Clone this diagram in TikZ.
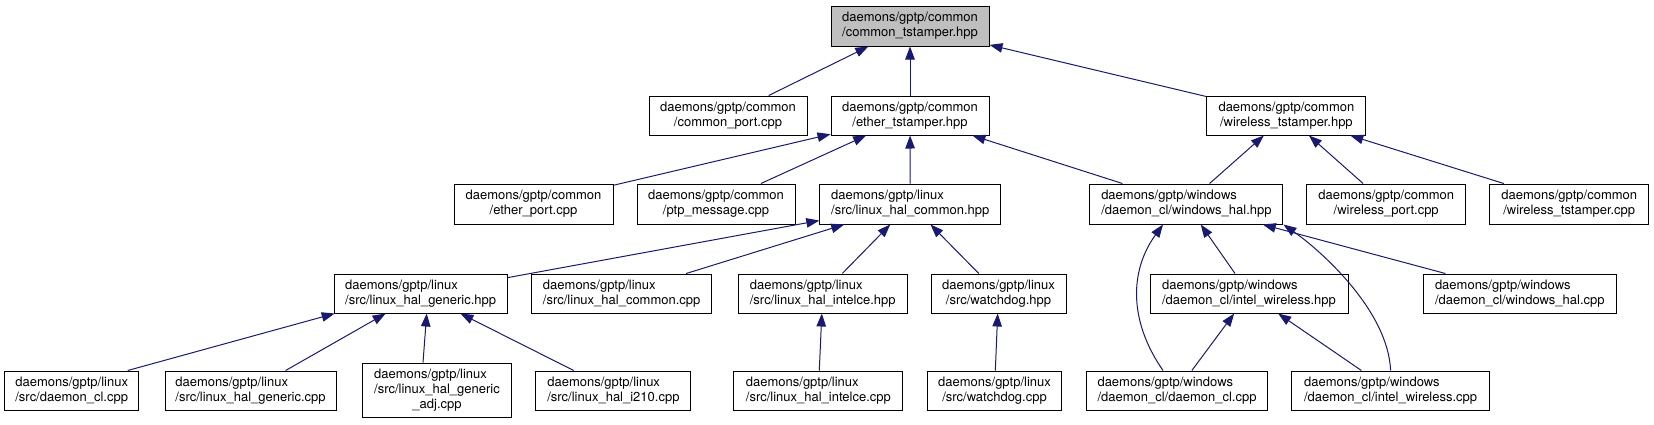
\documentclass[tikz,border=0pt]{standalone}
\usepackage{fontspec}
\setmainfont{TeX Gyre Heros}
\usetikzlibrary{arrows.meta}
\definecolor{edgeblue}{HTML}{191970}
\definecolor{rootgrey}{HTML}{BFBFBF}
\begin{document}
\begin{tikzpicture}[x=1pt,y=-1pt,
  box/.style={draw=black, line width=1pt, fill=white, inner sep=0pt, minimum height=39pt,
              font=\fontsize{13}{15}\selectfont, align=center},
  lbox/.style={box, align=left},
  edge/.style={draw=edgeblue, line width=1pt, -{Triangle[length=13pt,width=9.5pt]}}]
\useasboundingbox (0,0) rectangle (1654,424);

% row 1
\node[box, fill=rootgrey, minimum height=40pt, minimum width=158] (root) at (910,26) {daemons/gptp/common\\/common\_tstamper.hpp};
% row 2
\node[box, minimum width=158] (cport) at (728,115.5) {daemons/gptp/common\\/common\_port.cpp};
\node[box, minimum width=158] (eth) at (910,115.5) {daemons/gptp/common\\/ether\_tstamper.hpp};
\node[box, minimum width=159] (wth) at (1286.4,115.5) {daemons/gptp/common\\/wireless\_tstamper.hpp};
% row 3
\node[box, minimum height=40pt, minimum width=159] (eport) at (533.5,204) {daemons/gptp/common\\/ether\_port.cpp};
\node[box, minimum height=40pt, minimum width=158] (ptp) at (716,204) {daemons/gptp/common\\/ptp\_message.cpp};
\node[lbox, minimum height=40pt, minimum width=181] (lhch) at (910.3,204) {daemons/gptp/linux\\/src/linux\_hal\_common.hpp};
\node[lbox, minimum height=40pt, minimum width=193] (whh) at (1186.4,204) {daemons/gptp/windows\\/daemon\_cl/windows\_hal.hpp};
\node[box, minimum height=40pt, minimum width=159] (wport) at (1386.2,204) {daemons/gptp/common\\/wireless\_port.cpp};
\node[box, minimum height=40pt, minimum width=159] (wtc) at (1569.2,204) {daemons/gptp/common\\/wireless\_tstamper.cpp};
% row 4
\node[lbox, minimum width=173] (lhgh) at (420.7,293.5) {daemons/gptp/linux\\/src/linux\_hal\_generic.hpp};
\node[lbox, minimum width=180] (lhcc) at (621.7,293.5) {daemons/gptp/linux\\/src/linux\_hal\_common.cpp};
\node[lbox, minimum width=169] (ich) at (822.7,293.5) {daemons/gptp/linux\\/src/linux\_hal\_intelce.hpp};
\node[box, minimum width=135] (wdh) at (998.5,293.5) {daemons/gptp/linux\\/src/watchdog.hpp};
\node[lbox, minimum width=198] (iwh) at (1249,293.5) {daemons/gptp/windows\\/daemon\_cl/intel\_wireless.hpp};
\node[lbox, minimum width=193.5] (whc) at (1519.8,293.5) {daemons/gptp/windows\\/daemon\_cl/windows\_hal.cpp};
% row 5
\node[lbox, minimum width=134] (dcl) at (71.7,390.5) {daemons/gptp/linux\\/src/daemon\_cl.cpp};
\node[lbox, minimum width=171] (lhgc) at (250.5,390.5) {daemons/gptp/linux\\/src/linux\_hal\_generic.cpp};
\node[box, minimum width=149, minimum height=54pt] (adj) at (437,390) {\begin{tabular}{@{}l@{}}daemons/gptp/linux\\/src/linux\_hal\_generic\\\multicolumn{1}{@{}c@{}}{\_adj.cpp}\end{tabular}};
\node[lbox, minimum width=155] (i210) at (613.4,390.5) {daemons/gptp/linux\\/src/linux\_hal\_i210.cpp};
\node[lbox, minimum width=169] (icc) at (818.4,390.5) {daemons/gptp/linux\\/src/linux\_hal\_intelce.cpp};
\node[box, minimum width=134] (wdc) at (994.5,390.5) {daemons/gptp/linux\\/src/watchdog.cpp};
\node[lbox, minimum width=181] (wdcl) at (1177,390.5) {daemons/gptp/windows\\/daemon\_cl/daemon\_cl.cpp};
\node[lbox, minimum width=197.5] (iwc) at (1390.6,390.5) {daemons/gptp/windows\\/daemon\_cl/intel\_wireless.cpp};

% edges
\draw[edge] (cport) -- (root);
\draw[edge] (eth) -- (root);
\draw[edge] (wth) -- (root);
\draw[edge] (eport) -- (eth);
\draw[edge] (ptp) -- (eth);
\draw[edge] (lhch) -- (eth);
\draw[edge] (whh) -- (eth);
\draw[edge] (whh) -- (wth);
\draw[edge] (wport) -- (wth);
\draw[edge] (wtc) -- (wth);
\draw[edge] (lhgh) -- (lhch);
\draw[edge] (lhcc) -- (lhch);
\draw[edge] (ich) -- (lhch);
\draw[edge] (wdh) -- (lhch);
\draw[edge] ([xshift=56pt]dcl.north) -- ([xshift=-86pt]lhgh.south);
\draw[edge] (lhgc) -- (lhgh);
\draw[edge] ([xshift=-14pt]adj.north) -- ([xshift=6pt]lhgh.south);
\draw[edge] (i210) -- (lhgh);
\draw[edge] (icc) -- (ich);
\draw[edge] (wdc) -- (wdh);
\draw[edge] ([xshift=-14pt]wdcl.north) .. controls (1128,320) and (1130,270) .. ([xshift=-23.4pt]whh.south);
\draw[edge] (iwh) -- (whh);
\draw[edge] (iwc.north) .. controls (1388,310) and (1320,250) .. (whh.south east);
\draw[edge] (whc) -- (whh);
\draw[edge] (wdcl) -- (iwh);
\draw[edge] (iwc) -- (iwh);
\end{tikzpicture}
\end{document}
